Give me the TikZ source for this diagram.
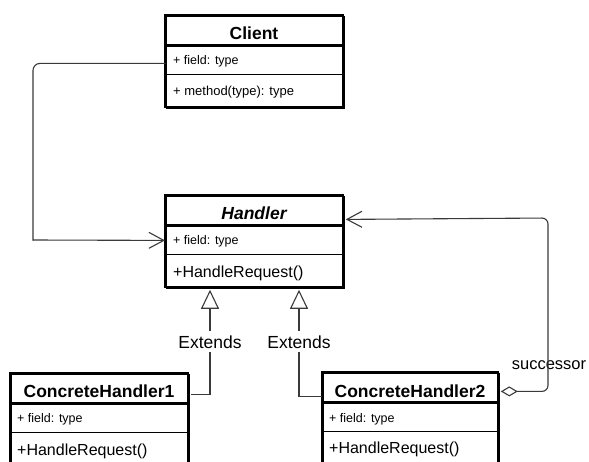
\documentclass[tikz,border=0pt]{standalone}
\usepackage{fontspec}
\setmainfont{Liberation Sans}
\usetikzlibrary{arrows.meta}
\definecolor{wire}{HTML}{3A3A3A}
\begin{document}
\begin{tikzpicture}[x=1pt,y=-1pt,
  part/.style={draw=black, line width=0.9pt, anchor=north west, inner sep=0pt, outer sep=1.4pt},
  frame/.style={draw=black, line width=2.8pt},
  titletext/.style={anchor=base, inner sep=0pt, font=\fontsize{17.5}{20}\selectfont\bfseries},
  fieldtext/.style={anchor=base west, inner sep=0pt, font=\fontsize{12.5}{14}\selectfont},
  optext/.style={anchor=base west, inner sep=0pt, font=\fontsize{16}{18}\selectfont},
  lbl/.style={anchor=base, inner sep=4pt},
  wire/.style={draw=wire, line width=1.1pt},
  barb/.style={-{Straight Barb[length=15pt,width=16pt]}},
  inherit/.style={-{Triangle[open,length=19pt,width=18pt,fill=white]}}
]
\useasboundingbox (0,0) rectangle (589,461);
\clip (0,0) rectangle (589,461);
\fill[white] (0,0) rectangle (589,461);

% Client
\node[part, minimum width=178pt, minimum height=30pt] (client) at (165,15) {};
\node[part, minimum width=178pt, minimum height=28pt] (clientfield) at (165,45) {};
\node[part, minimum width=178pt, minimum height=34pt] (clientops) at (165,73) {};
\draw[frame] (165,15) rectangle (343,107);
\draw[frame] (165,45) -- (343,45);
\node[titletext] (clientname) at (254,39) {Client};
\node[fieldtext] (clientattr) at (173,64) {+ field: type};
\node[fieldtext, font=\fontsize{13}{15}\selectfont] (clientmeth) at (173,95) {+ method(type): type};

% Handler
\node[part, minimum width=178pt, minimum height=30pt] (handler) at (165,195) {};
\node[part, minimum width=178pt, minimum height=28pt] (handlerfield) at (165,225) {};
\node[part, minimum width=178pt, minimum height=34pt] (handlerops) at (165,253) {};
\draw[frame] (165,195) rectangle (343,287);
\draw[frame] (165,225) -- (343,225);
\node[titletext, font=\fontsize{17.5}{20}\selectfont\bfseries\itshape] (handlername) at (254,219) {Handler};
\node[fieldtext] (handlerattr) at (173,244) {+ field: type};
\node[optext] (handlermeth) at (173,277) {+HandleRequest()};

% ConcreteHandler1
\node[part, minimum width=178pt, minimum height=30pt] (ch1title) at (10,373) {};
\node[part, minimum width=178pt, minimum height=28pt] (ch1field) at (10,403) {};
\node[part, minimum width=178pt, minimum height=44pt] (ch1ops) at (10,431) {};
\draw[frame] (10,373) rectangle (188,480);
\draw[frame] (10,403) -- (188,403);
\node[titletext] (ch1name) at (99,397) {ConcreteHandler1};
\node[fieldtext] (ch1attr) at (17,422) {+ field: type};
\node[optext] (ch1meth) at (17,455) {+HandleRequest()};

% ConcreteHandler2
\node[part, minimum width=176pt, minimum height=30pt] (ch2title) at (322,372) {};
\node[part, minimum width=176pt, minimum height=28pt] (ch2field) at (322,402) {};
\node[part, minimum width=176pt, minimum height=44pt] (ch2ops) at (322,430) {};
\draw[frame] (322,372) rectangle (498,480);
\draw[frame] (322,402) -- (498,402);
\node[titletext] (ch2name) at (410,397) {ConcreteHandler2};
\node[fieldtext] (ch2attr) at (329,422) {+ field: type};
\node[optext] (ch2meth) at (329,453) {+HandleRequest()};

% Labels
\node[lbl, font=\fontsize{17.5}{20}\selectfont] (ext1) at (210,348) {Extends};
\node[lbl, font=\fontsize{17.5}{20}\selectfont] (ext2) at (299,348) {Extends};
\node[anchor=base, inner sep=0pt, font=\fontsize{16.5}{19}\selectfont] (succ) at (549,369) {successor};

% Client uses Handler: rounded upper bend, square lower bend
\coordinate (loopturn) at (33,240);
\draw[wire, rounded corners=7pt, line cap=rect] ([yshift=-3pt]clientfield.west) -| (loopturn);
\draw[wire, barb] (loopturn) -- (handlerfield.west);

% Generalisations
\draw[wire] ([yshift=-5pt]ch1title.east) -| (ext1.south);
\draw[wire, inherit] (ext1.north) -- (ext1.north |- handlerops.south);
\draw[wire] ([yshift=-8pt]ch2title.west) -| (ext2.south);
\draw[wire, inherit] (ext2.north) -- (ext2.north |- handlerops.south);

% Successor aggregation
\coordinate (succturn) at (548,218);
\draw[wire, rounded corners=6pt, {Diamond[open,length=17pt,width=10pt]}-{Straight Barb[length=15pt,width=16pt]}]
  ([yshift=-3pt]ch2title.east) -| (succturn) -- ([yshift=-8pt]handler.east);
\end{tikzpicture}
\end{document}
